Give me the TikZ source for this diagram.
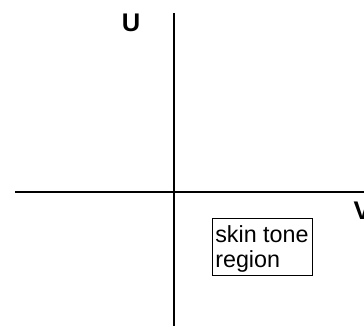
\documentclass[tikz,border=0pt]{standalone}
\usepackage{fontspec}
\setmainfont{Liberation Sans}
\begin{document}
\begin{tikzpicture}[x=1pt,y=-1pt,
  axis/.style={line width=2.8pt},
  axislabel/.style={font=\fontsize{25.5}{25.5}\selectfont\bfseries, inner sep=0pt},
  regionbox/.style={draw, line width=1.5pt, inner xsep=3pt, inner ysep=0pt,
    minimum height=56.6pt, align=left, font=\fontsize{23.3}{25}\selectfont}]
\useasboundingbox (0,0) rectangle (364,327);
\coordinate (ytop) at (174,13.3);
\coordinate (ybot) at (174,326);
\coordinate (xleft) at (15,192);
\coordinate (xright) at (366,192);
\draw[axis] (ytop) -- (ybot);
\draw[axis] (xleft) -- (xright);
\node[axislabel] (U) at (131,22.5) {U};
\node[axislabel] (V) at (362,211) {V};
\node[regionbox] (skin) at (262.3,247) {\rule{0pt}{20pt}\makebox[94pt][l]{skin tone}\\\makebox[94pt][l]{region}};
\end{tikzpicture}
\end{document}
